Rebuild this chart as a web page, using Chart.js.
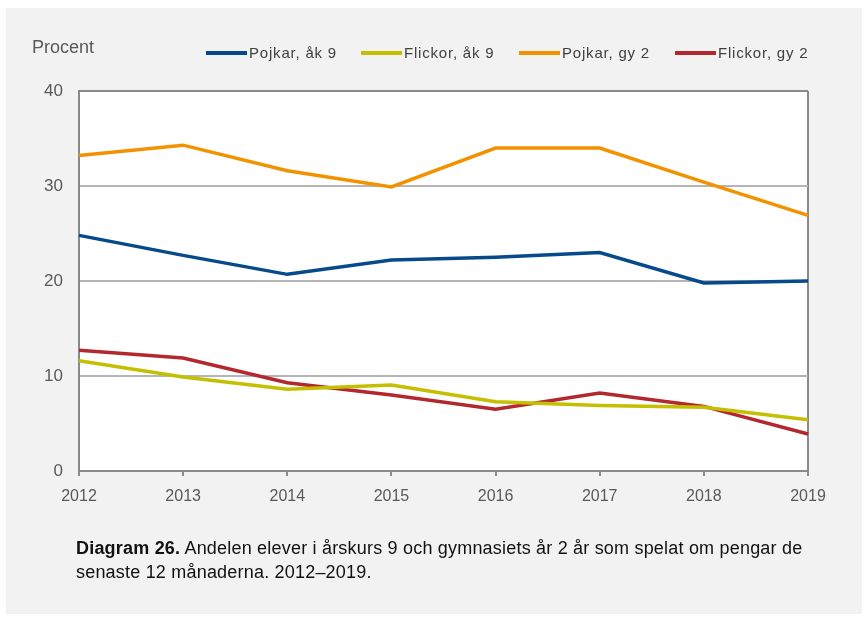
<!DOCTYPE html>
<html>
<head>
<meta charset="utf-8">
<script src="https://cdn.jsdelivr.net/npm/chart.js@4"></script>
<style>
  html, body { margin: 0; padding: 0; background: #fff; }
  #panel { position: absolute; left: 6px; top: 8px; width: 856px; height: 606px; background: #f2f2f2; }
  #wrap { position: absolute; left: 0; top: 0; width: 867px; height: 617px; }
  #unit { position: absolute; left: 32px; top: 37px; font: 18px "Liberation Sans", Arial, sans-serif; color: #595959; }
  .leg { position: absolute; top: 44px; font: 15px "Liberation Sans Narrow", "Liberation Sans", sans-serif; letter-spacing: 0.8px; color: #404040; white-space: nowrap; }
  .leg i { display: inline-block; width: 41px; height: 4px; vertical-align: middle; margin-right: 2px; margin-top: -2px; }
  #caption { position: absolute; left: 76px; top: 536px; font: 18px/24px "Liberation Sans", Arial, sans-serif; letter-spacing: 0.2px; color: #111; white-space: nowrap; }
</style>
</head>
<body>
<div id="panel"></div>
<div id="wrap"><canvas id="chart" width="867" height="617"></canvas></div>
<div id="unit">Procent</div>
<div id="legend"></div>
<div id="caption"><b>Diagram 26.</b> Andelen elever i årskurs 9 och gymnasiets år 2 år som spelat om pengar de<br>senaste 12 månaderna. 2012–2019.</div>
<script>
const years = ['2012', '2013', '2014', '2015', '2016', '2017', '2018', '2019'];
const seriesNames = ['Pojkar, åk 9', 'Flickor, åk 9', 'Pojkar, gy 2', 'Flickor, gy 2'];
const pojkarAk9 = [24.8, 22.7, 20.7, 22.2, 22.5, 23.0, 19.8, 20.0];
const flickorAk9 = [11.6, 9.9, 8.6, 9.05, 7.3, 6.9, 6.7, 5.4];
const pojkarGy2 = [33.2, 34.3, 31.6, 29.9, 34.0, 34.0, 30.4, 26.9];
const flickorGy2 = [12.7, 11.9, 9.3, 8.0, 6.5, 8.2, 6.8, 3.9];
const colors = ['#064a8c', '#c4bf00', '#f39200', '#b3282f'];
const legendX = [206, 361, 519, 675];

// html legend
const legendBox = document.getElementById('legend');
seriesNames.forEach((name, i) => {
    const item = document.createElement('div');
    item.className = 'leg';
    item.style.left = legendX[i] + 'px';
    item.innerHTML = `<i style="background:${colors[i]}"></i>${name}`;
    legendBox.appendChild(item);
});

// white plot area
const plotBg = {
    id: 'plotBg',
    beforeDraw(chart) {
        const { ctx, chartArea: a } = chart;
        ctx.save();
        ctx.fillStyle = '#fff';
        ctx.fillRect(a.left, a.top, a.right - a.left, a.bottom - a.top);
        ctx.restore();
    }
};

const allData = [pojkarAk9, flickorAk9, pojkarGy2, flickorGy2];

new Chart(document.getElementById('chart').getContext('2d'), {
    type: 'line',
    data: {
        labels: years,
        datasets: allData.map((d, i) => ({
            label: seriesNames[i],
            data: d,
            borderColor: colors[i],
            borderWidth: 3.5,
            pointRadius: 0,
            tension: 0,
            fill: false
        }))
    },
    options: {
        responsive: false,
        animation: false,
        layout: { padding: { left: 0, right: 59, top: 91, bottom: 0 } },
        plugins: { legend: { display: false }, tooltip: { enabled: false } },
        scales: {
            x: {
                offset: false,
                afterFit: s => { s.height = 146; },
                grid: {
                    color: c => (c.index === 0 || c.index === years.length - 1) ? '#8a8a8a' : 'rgba(0,0,0,0)',
                    tickColor: '#8a8a8a',
                    tickLength: 5,
                    lineWidth: 2
                },
                border: { color: '#8a8a8a', width: 2 },
                ticks: {
                    color: '#595959',
                    font: { family: 'Liberation Sans', size: 16 },
                    padding: 11,
                    maxRotation: 0
                }
            },
            y: {
                min: 0,
                max: 40,
                afterFit: s => { s.width = 79; },
                grid: {
                    color: c => (c.tick.value === 0 || c.tick.value === 40) ? '#8a8a8a' : '#b5b5b5',
                    lineWidth: 2,
                    drawTicks: false
                },
                border: { color: '#8a8a8a', width: 2 },
                ticks: {
                    stepSize: 10,
                    color: '#595959',
                    font: { family: 'Liberation Sans', size: 17 },
                    padding: 16
                }
            }
        }
    },
    plugins: [plotBg]
});
</script>
</body>
</html>
